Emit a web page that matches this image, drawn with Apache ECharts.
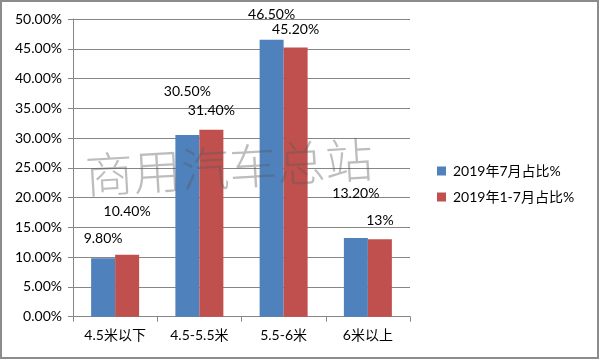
<!DOCTYPE html>
<html>
<head>
<meta charset="utf-8">
<script src="https://cdn.jsdelivr.net/npm/echarts@6/dist/echarts.min.js"></script>
<style>
html,body{margin:0;padding:0;background:#fff;}
#main{width:600px;height:360px;}
</style>
</head>
<body>
<div id="main"></div>
<script>
const categories = ['4.5米以下', '4.5-5.5米', '5.5-6米', '6米以上'];
const seriesNames = ['2019年7月占比%', '2019年1-7月占比%'];
const july = [9.80, 30.50, 46.50, 13.20];
const janToJuly = [10.40, 31.40, 45.20, 13];
const yTicks = [0, 5, 10, 15, 20, 25, 30, 35, 40, 45, 50];

// label distances above bar tops (style only)
const julyLabelDist = [13, 37, 18, 38];
const janLabelDist = [36, 12, 11, 12];

const FONT = 'Lato, "Noto Sans CJK SC", sans-serif';
const fmt = v => (Number.isInteger(v) ? v : v.toFixed(2)) + '%';

function items(vals, dists) {
  return vals.map((v, i) => ({ value: v, label: { distance: dists[i] } }));
}

const chart = echarts.init(document.getElementById('main'), null, { renderer: 'canvas' });
chart.setOption({
  animation: false,
  backgroundColor: '#fff',
  textStyle: { fontFamily: FONT },
  grid: { left: 73, top: 19, right: 190, bottom: 43.3, containLabel: false },
  legend: {
    orient: 'vertical', left: 432, top: 159,
    itemWidth: 9, itemHeight: 9, itemGap: 12,
    icon: 'rect',
    textStyle: { fontSize: 14, color: '#000', fontFamily: FONT, padding: [0, 0, 0, 2] },
    data: seriesNames
  },
  xAxis: {
    type: 'category', data: categories,
    axisLine: { lineStyle: { color: '#868686', width: 1 } },
    axisTick: { show: true, length: 5, lineStyle: { color: '#868686' } },
    axisLabel: { fontSize: 14, color: '#000', margin: 12, fontFamily: FONT }
  },
  yAxis: {
    type: 'value', min: yTicks[0], max: yTicks[yTicks.length - 1], interval: 5,
    axisLine: { show: true, lineStyle: { color: '#868686', width: 1 } },
    axisTick: { show: true, length: 5, lineStyle: { color: '#868686' } },
    splitLine: { lineStyle: { color: '#868686', width: 1 } },
    axisLabel: { fontSize: 14, color: '#000', margin: 11, formatter: v => v.toFixed(2) + '%', fontFamily: FONT }
  },
  series: [
    {
      name: seriesNames[0], type: 'bar', data: items(july, julyLabelDist),
      barWidth: 24, barGap: '0%',
      itemStyle: { color: '#4F81BD' },
      label: { show: true, position: 'top', fontSize: 14, color: '#000', formatter: p => fmt(p.value), fontFamily: FONT }
    },
    {
      name: seriesNames[1], type: 'bar', data: items(janToJuly, janLabelDist),
      barWidth: 24, barGap: '0%',
      itemStyle: { color: '#C0504D' },
      label: { show: true, position: 'top', fontSize: 14, color: '#000', formatter: p => fmt(p.value), fontFamily: FONT }
    }
  ],
  graphic: [
    {
      type: 'text', x: 229, y: 167, rotation: 3.3 * Math.PI / 180, zlevel: 5, z: 100,
      style: {
        text: '商用汽车总站', fontSize: 48, fontWeight: 300,
        fontFamily: '"Noto Sans CJK SC", serif',
        fill: 'rgba(90,90,90,0.4)', align: 'center', verticalAlign: 'middle'
      }
    },
    {
      type: 'rect', shape: { x: 1, y: 1, width: 597, height: 357 }, zlevel: 5, z: 100,
      style: { fill: 'none', stroke: '#8c8c8c', lineWidth: 2 }
    }
  ]
});
</script>
</body>
</html>
